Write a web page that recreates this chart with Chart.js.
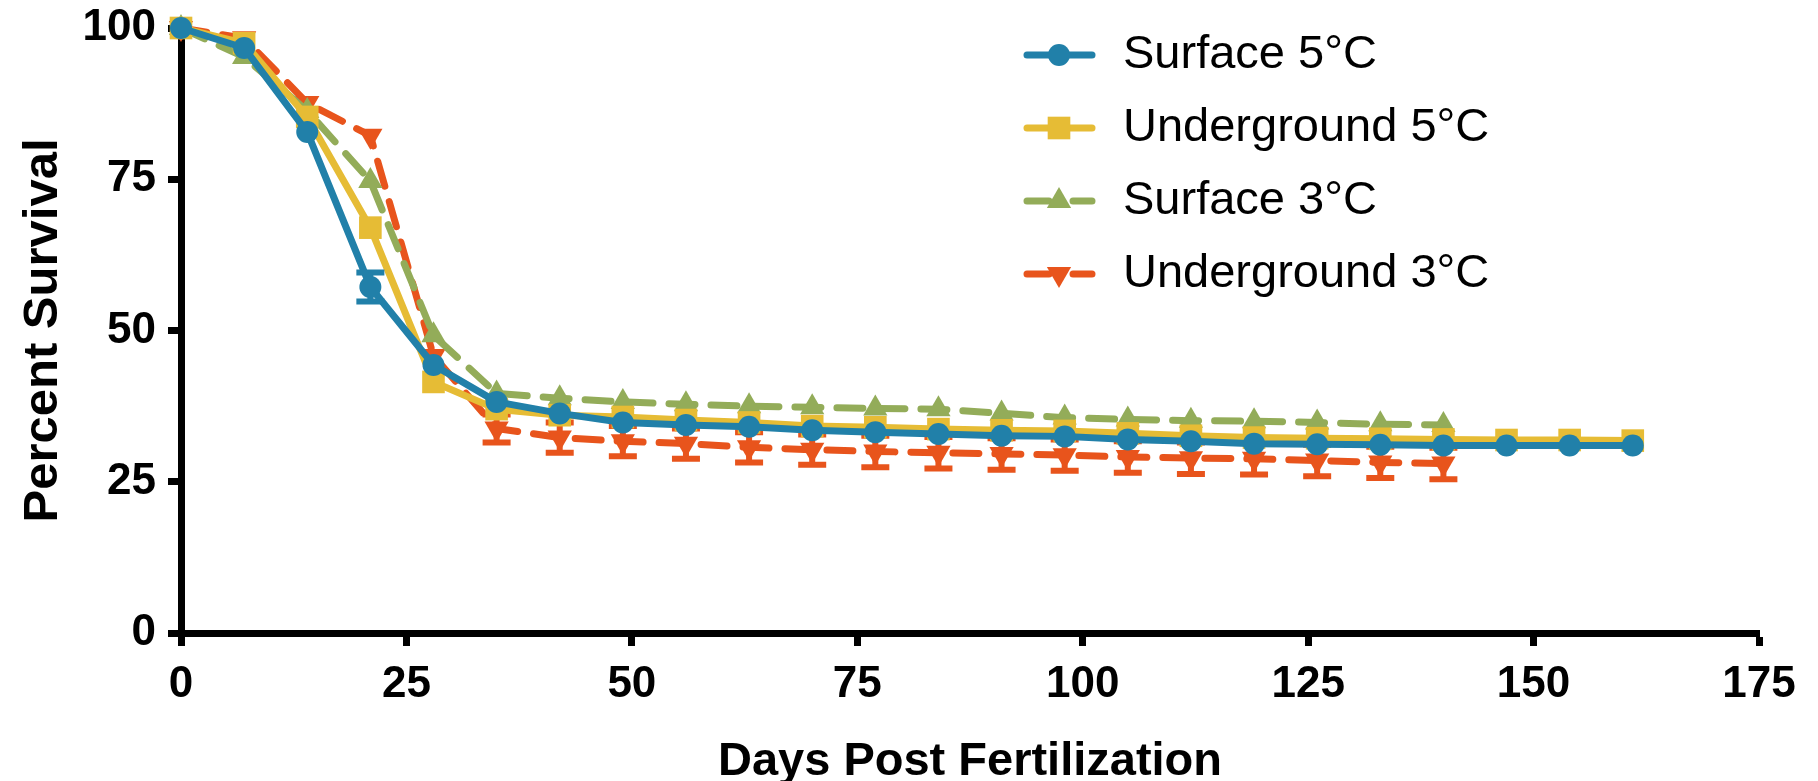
<!DOCTYPE html>
<html lang="en">
<head>
    <meta charset="UTF-8">
    <title>Percent Survival</title>
    <script src="https://cdn.jsdelivr.net/npm/chart.js"></script>
    <style>
        body {
            margin: 0;
            background-color: #ffffff;
        }
        .chart-box {
            width: 1818px;
            height: 781px;
        }
    </style>
</head>
<body>

<div class="chart-box">
    <canvas id="survivalChart"></canvas>
</div>

<script>
    // Days post fertilization (sampled weekly)
    const days = [0, 7, 14, 21, 28, 35, 42, 49, 56, 63, 70, 77, 84, 91, 98, 105, 112, 119, 126, 133, 140, 147, 154, 161];

    // Percent survival per group
    const surface5 = [100, 96.7, 82.8, 57.2, 44.3, 38.2, 36.3, 34.8, 34.4, 34.1, 33.5, 33.2, 32.9, 32.6, 32.5, 32.0, 31.7, 31.3, 31.2, 31.1, 31.0, 31.0, 31.0, 31.0];
    const underground5 = [100, 97.5, 85.3, 67.0, 41.5, 37.0, 36.0, 35.7, 35.2, 34.8, 34.2, 34.0, 33.7, 33.5, 33.4, 33.0, 32.6, 32.3, 32.2, 32.1, 32.0, 31.9, 31.9, 31.8];
    const surface3 = [100, 95.2, 86.3, 74.7, 49.2, 39.6, 38.8, 38.2, 37.8, 37.5, 37.3, 37.1, 37.0, 36.3, 35.6, 35.3, 35.1, 35.0, 34.8, 34.5, 34.4];
    const underground3 = [100, 98.3, 87.6, 82.2, 45.8, 33.8, 32.3, 31.7, 31.3, 30.7, 30.3, 30.0, 29.8, 29.6, 29.4, 29.1, 28.9, 28.8, 28.5, 28.2, 28.0];

    // Error bars (+/-), null where none visible
    const errSurface5 = [null, null, null, 2.4, null, null, null, null, null, null, null, null, null, null, null, null, null, null, null, null, null, null, null, null];
    const errUnderground3 = [null, null, null, null, null, 2.3, 2.5, 2.5, 2.5, 2.5, 2.5, 2.6, 2.6, 2.6, 2.6, 2.6, 2.6, 2.6, 2.6, 2.6, 2.6];

    const xTicks = [0, 25, 50, 75, 100, 125, 150, 175];
    const yTicks = [0, 25, 50, 75, 100];

    const FONT = '"Liberation Sans", Arial, sans-serif';
    const blue = '#2180a9';
    const yellow = '#e6bc35';
    const green = '#93ac59';
    const orange = '#e8541c';

    const toPoints = (vals) => vals.map((v, i) => ({ x: days[i], y: v }));

    // draws the +/- bars under each dataset
    const errorBars = {
        id: 'errorBars',
        beforeDatasetDraw(chart, args) {
            const ds = chart.data.datasets[args.index];
            if (!ds.errors) return;
            const ctx = chart.ctx;
            const x = chart.scales.x, y = chart.scales.y;
            ctx.save();
            ctx.strokeStyle = ds.borderColor;
            ctx.lineWidth = 6;
            ds.data.forEach((p, i) => {
                const e = ds.errors[i];
                if (!e) return;
                const px = x.getPixelForValue(p.x);
                const yTop = y.getPixelForValue(p.y + e);
                const yBot = y.getPixelForValue(p.y - e);
                ctx.beginPath();
                ctx.moveTo(px, yTop); ctx.lineTo(px, yBot);
                ctx.moveTo(px - 14, yTop); ctx.lineTo(px + 14, yTop);
                ctx.moveTo(px - 14, yBot); ctx.lineTo(px + 14, yBot);
                ctx.stroke();
            });
            ctx.restore();
        }
    };

    // legend with line + marker samples, top right
    const sideLegend = {
        id: 'sideLegend',
        afterDraw(chart) {
            const ctx = chart.ctx;
            chart.data.datasets.forEach((ds, i) => {
                const cy = 55 + i * 73;
                ctx.save();
                ctx.strokeStyle = ds.borderColor;
                ctx.lineWidth = 7;
                ctx.lineCap = 'round';
                ctx.setLineDash(ds.borderDash ? [22, 24] : []);
                ctx.beginPath();
                ctx.moveTo(1027, cy);
                ctx.lineTo(1092, cy);
                ctx.stroke();
                ctx.setLineDash([]);
                ctx.fillStyle = ds.borderColor;
                const opts = { pointStyle: ds.pointStyle, rotation: ds.pointRotation || 0, radius: ds.pointRadius, borderWidth: 0 };
                if (Chart.helpers && Chart.helpers.drawPoint) {
                    Chart.helpers.drawPoint(ctx, opts, 1059, cy);
                } else {
                    ctx.beginPath(); ctx.arc(1059, cy, ds.pointRadius, 0, Math.PI * 2); ctx.fill();
                }
                ctx.fillStyle = '#000';
                ctx.font = '47px ' + FONT;
                ctx.textBaseline = 'middle';
                ctx.fillText(ds.label, 1123, cy);
                ctx.restore();
            });
        }
    };

    function series(label, vals, color, style, radius, extra) {
        return Object.assign({
            label: label,
            data: toPoints(vals),
            borderColor: color,
            backgroundColor: color,
            borderWidth: 7,
            borderJoinStyle: 'round',
            pointStyle: style,
            pointRadius: radius,
            pointHoverRadius: radius,
            pointBorderWidth: 0,
            pointBackgroundColor: color,
            tension: 0,
            clip: false
        }, extra || {});
    }

    const axisFont = { family: FONT, size: 44, weight: 'bold' };

    new Chart(document.getElementById('survivalChart'), {
        type: 'line',
        data: {
            datasets: [
                series('Surface 5°C', surface5, blue, 'circle', 11, { errors: errSurface5 }),
                series('Underground 5°C', underground5, yellow, 'rect', 16),
                series('Surface 3°C', surface3, green, 'triangle', 14, { borderDash: [26, 16], borderCapStyle: 'round' }),
                series('Underground 3°C', underground3, orange, 'triangle', 14, { pointRotation: 180, borderDash: [26, 16], borderCapStyle: 'round', errors: errUnderground3 })
            ]
        },
        options: {
            responsive: true,
            maintainAspectRatio: false,
            animation: false,
            layout: { padding: { top: 28, right: 59, left: 0, bottom: 0 } },
            plugins: {
                legend: { display: false },
                tooltip: { enabled: false }
            },
            scales: {
                x: {
                    type: 'linear',
                    min: 0,
                    max: 175,
                    afterBuildTicks: s => { s.ticks = xTicks.map(v => ({ value: v })); },
                    afterFit: s => { s.height = 148; s.paddingLeft = 0; s.paddingRight = 0; },
                    ticks: { color: '#000', font: axisFont, padding: 12, maxRotation: 0 },
                    grid: { drawOnChartArea: false, drawTicks: true, tickLength: 13, tickWidth: 7, color: '#000' },
                    border: { display: true, width: 7, color: '#000' },
                    title: { display: true, text: 'Days Post Fertilization', color: '#000', font: { family: FONT, size: 47, weight: 'bold', lineHeight: 0.8 }, padding: { top: 0, bottom: 0 } }
                },
                y: {
                    min: 0,
                    max: 100,
                    afterBuildTicks: s => { s.ticks = yTicks.map(v => ({ value: v })); },
                    afterFit: s => { s.width = 181; s.paddingTop = 0; s.paddingBottom = 0; },
                    ticks: { color: '#000', font: axisFont, padding: 12 },
                    grid: { drawOnChartArea: false, drawTicks: true, tickLength: 13, tickWidth: 7, color: '#000' },
                    border: { display: true, width: 7, color: '#000' },
                    title: { display: true, text: 'Percent Survival', color: '#000', font: { family: FONT, size: 49, weight: 'bold', lineHeight: 1 }, padding: { top: 19, bottom: 0 } }
                }
            }
        },
        plugins: [errorBars, sideLegend]
    });
</script>

</body>
</html>
